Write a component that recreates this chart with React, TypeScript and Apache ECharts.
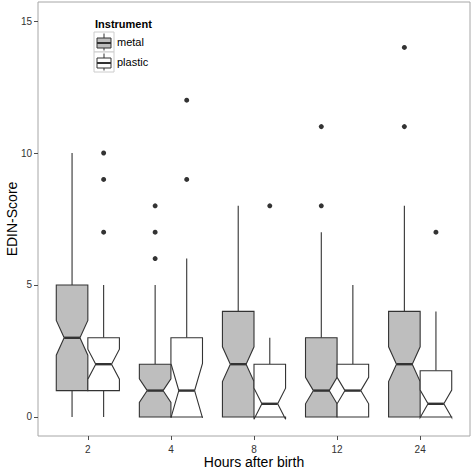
import React, { useEffect, useRef } from "react";
import * as echarts from "echarts";

const categories = ["2", "4", "8", "12", "24"];
const groups = ["metal", "plastic"];

const metalLow = [0, 0, 0, 0, 0];
const metalQ1 = [1, 0, 0, 0, 0];
const metalMedian = [3, 1, 2, 1, 2];
const metalQ3 = [5, 2, 4, 3, 4];
const metalHigh = [10, 5, 8, 7, 8];
const metalNotchLo = [2.34, 0.55, 1.34, 0.5, 1.34];
const metalNotchHi = [3.66, 1.45, 2.66, 1.5, 2.66];

const plasticLow = [0, 0, 0, 0, 0];
const plasticQ1 = [1, 0, 0, 0, 0];
const plasticMedian = [2, 1, 0.5, 1, 0.5];
const plasticQ3 = [3, 3, 2, 2, 1.75];
const plasticHigh = [5, 6, 3, 5, 4];
const plasticNotchLo = [1.43, -0.03, -0.09, 0.5, -0.02];
const plasticNotchHi = [2.57, 2.03, 1.09, 1.5, 1.02];

// [category index, value]
const metalOutliers = [[1, 8], [1, 7], [1, 6], [3, 11], [3, 8], [4, 14], [4, 11]];
const plasticOutliers = [[0, 10], [0, 9], [0, 7], [1, 12], [1, 9], [2, 8], [4, 7]];

const yTicks = [0, 5, 10, 15];

const DODGE = 0.19;
const HALF = 0.19;
const LINE = "#333333";
const FONT = "Liberation Sans, Arial, sans-serif";

function buildBox(low, q1, med, q3, high, nlo, nhi, offset) {
  return categories.map((_, i) => [i + 1 + offset, low[i], q1[i], med[i], q3[i], high[i], nlo[i], nhi[i]]);
}

function makeRender(fill) {
  return (params, api) => {
    const x = api.value(0);
    const low = api.value(1);
    const q1 = api.value(2);
    const med = api.value(3);
    const q3 = api.value(4);
    const high = api.value(5);
    const nlo = api.value(6);
    const nhi = api.value(7);
    const xmin = x - HALF;
    const xmax = x + HALF;
    const ind = HALF * 0.5;
    const pts = [
      [xmin, q3], [xmin, nhi], [xmin + ind, med], [xmin, nlo], [xmin, q1],
      [xmax, q1], [xmax, nlo], [xmax - ind, med], [xmax, nhi], [xmax, q3],
    ].map((p) => api.coord(p));
    const cTop = api.coord([x, high]);
    const cQ3 = api.coord([x, q3]);
    const cQ1 = api.coord([x, q1]);
    const cLow = api.coord([x, low]);
    const mL = api.coord([xmin + ind, med]);
    const mR = api.coord([xmax - ind, med]);
    return {
      type: "group",
      children: [
        { type: "line", shape: { x1: cTop[0], y1: cTop[1], x2: cQ3[0], y2: cQ3[1] }, style: { stroke: LINE, lineWidth: 1.1 } },
        { type: "line", shape: { x1: cQ1[0], y1: cQ1[1], x2: cLow[0], y2: cLow[1] }, style: { stroke: LINE, lineWidth: 1.1 } },
        { type: "polygon", shape: { points: pts }, style: { fill, stroke: LINE, lineWidth: 1.1 } },
        { type: "line", shape: { x1: mL[0], y1: mL[1], x2: mR[0], y2: mR[1] }, style: { stroke: LINE, lineWidth: 2.4 } },
      ],
    };
  };
}

function legendKey(y, fill) {
  return {
    type: "group",
    x: 94,
    y,
    children: [
      { type: "rect", shape: { x: 0, y: 0, width: 20, height: 20 }, style: { fill: "#ffffff", stroke: "#cccccc", lineWidth: 1 } },
      { type: "line", shape: { x1: 10, y1: 1.5, x2: 10, y2: 18.5 }, style: { stroke: LINE, lineWidth: 1 } },
      { type: "rect", shape: { x: 3, y: 6, width: 14, height: 10 }, style: { fill, stroke: LINE, lineWidth: 1 } },
      { type: "line", shape: { x1: 3, y1: 11, x2: 17, y2: 11 }, style: { stroke: LINE, lineWidth: 2 } },
    ],
  };
}

export default function App() {
  const ref = useRef(null);
  useEffect(() => {
    const chart = echarts.init(ref.current, null, { renderer: "svg" });
    const metalData = buildBox(metalLow, metalQ1, metalMedian, metalQ3, metalHigh, metalNotchLo, metalNotchHi, -DODGE);
    const plasticData = buildBox(plasticLow, plasticQ1, plasticMedian, plasticQ3, plasticHigh, plasticNotchLo, plasticNotchHi, DODGE);
    const metalOut = metalOutliers.map(([c, v]) => [c + 1 - DODGE, v]);
    const plasticOut = plasticOutliers.map(([c, v]) => [c + 1 + DODGE, v]);
    chart.setOption({
      animation: false,
      backgroundColor: "#ffffff",
      grid: {
        left: 38, right: 2, top: 2, bottom: 35,
        containLabel: false,
        outerBoundsMode: "none",
        show: true, borderColor: "#a6a6a6", borderWidth: 1, backgroundColor: "#ffffff",
      },
      xAxis: {
        type: "value",
        min: 0.4,
        max: 5.6,
        name: "Hours after birth",
        nameLocation: "middle",
        nameGap: 18.5,
        nameMoveOverlap: false,
        nameTextStyle: { fontFamily: FONT, fontSize: 14, lineHeight: 14, color: "#000", verticalAlign: "top" },
        axisLine: { show: false, onZero: false },
        splitLine: { show: false },
        axisTick: { show: true, length: 4, customValues: [1, 2, 3, 4, 5], lineStyle: { color: "#4d4d4d" } },
        axisLabel: {
          customValues: [1, 2, 3, 4, 5],
          formatter: (v) => categories[Math.round(v) - 1] ?? "",
          fontFamily: FONT,
          fontSize: 10,
          lineHeight: 10,
          color: "#333333",
          margin: 8,
        },
      },
      yAxis: {
        type: "value",
        min: -0.72,
        max: 15.72,
        name: "EDIN-Score",
        nameLocation: "middle",
        nameGap: 19,
        nameRotate: 90,
        nameMoveOverlap: false,
        nameTextStyle: { fontFamily: FONT, fontSize: 14, lineHeight: 14, color: "#000" },
        axisLine: { show: false, onZero: false },
        splitLine: { show: false },
        axisTick: { show: true, length: 4, customValues: yTicks, lineStyle: { color: "#4d4d4d" } },
        axisLabel: {
          customValues: yTicks,
          formatter: (v) => String(v),
          fontFamily: FONT,
          fontSize: 10,
          lineHeight: 10,
          color: "#333333",
          margin: 6,
        },
      },
      series: [
        { type: "custom", name: groups[0], data: metalData, renderItem: makeRender("#bebebe"), encode: { x: 0, y: [1, 5] }, z: 2, clip: false },
        { type: "custom", name: groups[1], data: plasticData, renderItem: makeRender("#ffffff"), encode: { x: 0, y: [1, 5] }, z: 2, clip: false },
        { type: "scatter", data: metalOut, symbolSize: 5, itemStyle: { color: "#000" }, z: 3 },
        { type: "scatter", data: plasticOut, symbolSize: 5, itemStyle: { color: "#000" }, z: 3 },
      ],
      graphic: [
        { type: "text", x: 95, y: 18, style: { text: "Instrument", fontFamily: FONT, fontSize: 11, fontWeight: "bold", fill: "#000" } },
        legendKey(32, "#bebebe"),
        legendKey(52, "#ffffff"),
        { type: "text", x: 117, y: 42, style: { text: groups[0], fontFamily: FONT, fontSize: 11, fill: "#000", verticalAlign: "middle" } },
        { type: "text", x: 117, y: 62, style: { text: groups[1], fontFamily: FONT, fontSize: 11, fill: "#000", verticalAlign: "middle" } },
      ],
    });
    return () => chart.dispose();
  }, []);
  return <div ref={ref} style={{ width: 472, height: 471, position: "absolute", left: 0, top: 0 }} />;
}
